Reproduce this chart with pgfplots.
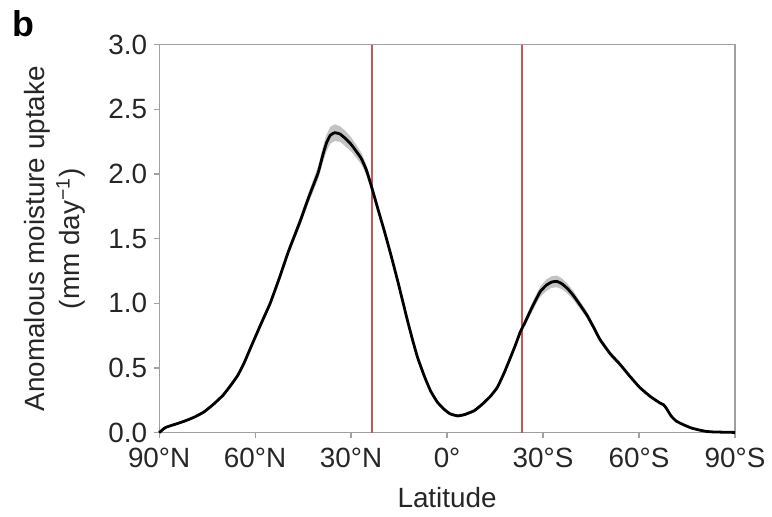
\documentclass[border=0pt]{standalone}
\usepackage{fontspec}
\setmainfont{Liberation Sans}
\usepackage{pgfplots}
\usepackage{pgfplotstable}
\pgfplotsset{compat=1.18}
\usepgfplotslibrary{fillbetween}
\definecolor{tropic}{RGB}{200,86,88}
\definecolor{frame}{RGB}{160,160,160}
\definecolor{band}{RGB}{195,195,195}

\pgfplotstableread{
x y e
-90 0.000 0.005
-88 0.040 0.008
-85 0.065 0.008
-82 0.090 0.010
-79 0.120 0.010
-76 0.160 0.012
-73 0.220 0.012
-70 0.290 0.014
-67.5 0.370 0.016
-65.5 0.440 0.017
-63.6 0.530 0.018
-61 0.680 0.020
-58 0.850 0.022
-55.3 1.000 0.025
-52.5 1.190 0.028
-49.6 1.400 0.030
-46 1.630 0.035
-43.4 1.810 0.040
-42 1.900 0.045
-40.3 2.010 0.050
-38.8 2.150 0.060
-37.7 2.240 0.065
-36.5 2.300 0.065
-35.1 2.320 0.065
-33.5 2.310 0.060
-32 2.280 0.060
-30 2.230 0.055
-28.5 2.180 0.050
-26.8 2.120 0.045
-25.2 2.030 0.040
-23.7 1.910 0.035
-21.5 1.720 0.030
-19.5 1.550 0.028
-17.5 1.370 0.026
-15.4 1.170 0.024
-13.8 1.010 0.022
-12.3 0.860 0.020
-10.7 0.710 0.018
-9.2 0.580 0.016
-7 0.430 0.015
-5.1 0.320 0.014
-3 0.235 0.012
-0.9 0.180 0.012
1 0.145 0.012
3.3 0.130 0.012
5.5 0.140 0.012
8.5 0.170 0.012
11 0.220 0.014
13.5 0.280 0.015
15.7 0.350 0.016
17.8 0.460 0.018
19.8 0.580 0.020
21.4 0.680 0.022
22.9 0.780 0.025
24.5 0.860 0.028
26 0.940 0.032
27.6 1.020 0.036
29.1 1.090 0.040
31 1.140 0.045
32.7 1.165 0.045
34.3 1.170 0.045
36 1.150 0.042
37.8 1.110 0.038
39.5 1.060 0.034
41.5 0.990 0.030
43.7 0.910 0.026
45.8 0.815 0.022
47.8 0.720 0.020
51 0.610 0.018
54 0.530 0.016
57 0.440 0.014
60.2 0.350 0.012
63.5 0.280 0.011
66.5 0.230 0.010
67.7 0.215 0.010
68.5 0.190 0.010
70 0.130 0.009
71.6 0.090 0.008
74 0.060 0.006
76.5 0.035 0.005
78.9 0.020 0.004
81 0.010 0.004
83 0.006 0.003
86 0.004 0.002
90 0.002 0.002
}\uptake

\begin{document}
\begin{tikzpicture}
\begin{axis}[
    scale only axis,
    width=289.5pt,
    height=195pt,
    xmin=-90, xmax=90,
    ymin=0, ymax=3,
    xtick={-90,-60,-30,0,30,60,90},
    xticklabels={90°N,60°N,30°N,0°,30°S,60°S,90°S},
    ytick={0,0.5,...,3},
    yticklabel style={/pgf/number format/.cd, fixed, fixed zerofill, precision=1, assume math mode=true},
    xticklabel style={yshift=-1.5pt},
    tick label style={font=\fontsize{14}{16}\selectfont, text=black!85},
    label style={font=\fontsize{14}{16}\selectfont, text=black!85},
    axis line style={frame, line width=0.6pt},
    tick style={frame, line width=0.6pt},
    tick align=outside,
    major tick length=2.5pt,
    xtick pos=bottom,
    ytick pos=left,
    xlabel={Latitude},
    xlabel style={at={(axis description cs:0.5,-0.167)}, anchor=center},
    ylabel={Anomalous moisture uptake\\[2pt](mm day\textsuperscript{−1})},
    ylabel style={align=center, at={(axis description cs:-0.181,0.5)}, anchor=center},
    clip=false,
]
\addplot[name path=up, draw=none, forget plot] table[x=x, y expr=\thisrow{y}+\thisrow{e}] {\uptake};
\addplot[name path=lo, draw=none, forget plot] table[x=x, y expr=\thisrow{y}-\thisrow{e}] {\uptake};
\addplot[band, draw=none] fill between[of=up and lo];
\addplot[tropic, line width=1.2pt] coordinates {(-23.44,0) (-23.44,3)};
\addplot[tropic, line width=1.2pt] coordinates {(23.44,0) (23.44,3)};
\addplot[black, line width=1.4pt, smooth, tension=0.25] table[x=x, y=y] {\uptake};
\node[anchor=north west, font=\fontsize{18}{20}\selectfont\bfseries, inner sep=0pt]
    at (axis description cs:-0.2556,1.0897) {b};
\coordinate (bl) at (axis description cs:-0.2763,-0.2154);
\coordinate (tr) at (axis description cs:1.0570,1.1154);
\end{axis}
\path (bl) rectangle (tr);
\end{tikzpicture}
\end{document}
